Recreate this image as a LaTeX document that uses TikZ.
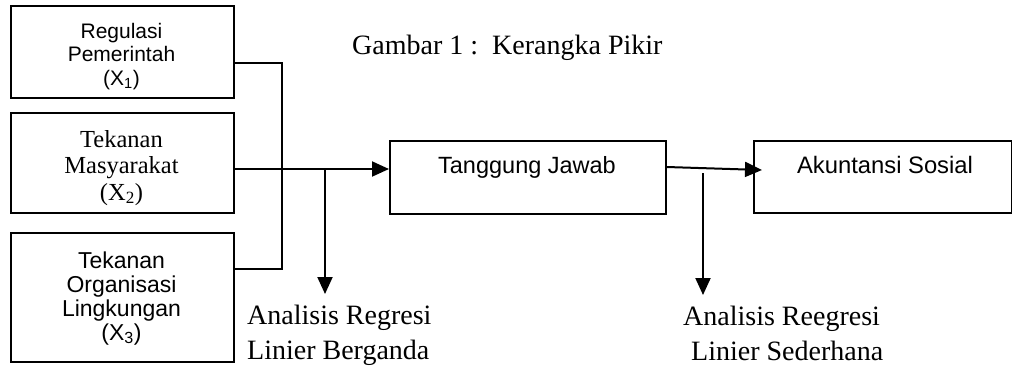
\documentclass[tikz,border=0pt]{standalone}
\usepackage{fontspec}
\setmainfont{Liberation Serif}
\newfontfamily\arialf{Liberation Sans}
\usetikzlibrary{arrows.meta}
\begin{document}
\begin{tikzpicture}[x=1pt,y=-1pt,
  box/.style={draw,line width=2pt,rectangle,inner sep=0pt,anchor=north west},
  lbl/.style={inner sep=0pt,anchor=base},
  conn/.style={line width=2pt},
  arr/.style={line width=2pt,-{Triangle[length=17pt,width=15pt]}}]
\useasboundingbox (0,0) rectangle (1012,365);
% boxes
\node[box,minimum width=223pt,minimum height=92pt] (b1) at (10,5) {};
\node[box,minimum width=223pt,minimum height=100pt] (b2) at (10,112) {};
\node[box,minimum width=223pt,minimum height=129pt] (b3) at (10,232) {};
\node[box,minimum width=276pt,minimum height=73pt] (tj) at (389,140) {};
\node[box,minimum width=258pt,minimum height=72pt] (as) at (753,140) {};
% box texts (base anchor = baseline of last line)
\node[lbl,align=center,font=\arialf\fontsize{21}{23.5}\selectfont] (t1) at (121.5,85) {Regulasi\\Pemerintah\\(X\textsubscript{1})};
\node[lbl,align=center,font=\fontsize{24.5}{26.5}\selectfont] (t2) at (121.5,200) {Tekanan\\Masyarakat\\(X\textsubscript{2})};
\node[lbl,align=center,font=\arialf\fontsize{23}{24}\selectfont] (t3) at (121.5,340) {Tekanan\\Organisasi\\Lingkungan\\(X\textsubscript{3})};
\node[lbl,font=\arialf\fontsize{23.5}{28}\selectfont] (t4) at (527,173) {Tanggung Jawab};
\node[lbl,font=\arialf\fontsize{23.8}{28}\selectfont] (t5) at (885,173) {Akuntansi Sosial};
% title
\node[inner sep=0pt,anchor=base west,font=\fontsize{28}{34}\selectfont] (title) at (352,54) {Gambar 1 :~~Kerangka Pikir};
% bottom labels
\node[inner sep=0pt,anchor=base west,align=left,font=\fontsize{28}{35}\selectfont] (l1) at (247,359) {Analisis Regresi\\Linier Berganda};
\node[inner sep=0pt,anchor=base west,align=left,font=\fontsize{28}{35}\selectfont] (l2) at (683,360) {Analisis Reegresi\\\hspace*{8pt}Linier Sederhana};
% coordinates
\coordinate (j1) at (282,63);
\coordinate (j3) at (282,269);
\coordinate (m) at (325,169);
\coordinate (a1) at (325,294);
\coordinate (p) at (762,170);
\coordinate (r0) at (703,173);
\coordinate (r1) at (703,295);
% connectors
\draw[conn] (b1.east |- j1) -- (j1) -- (j3) -- (b3.east |- j3);
\draw[arr] (b2.east |- m) -- (tj.west |- m);
\draw[arr] (m) -- (a1);
\draw[arr] (tj.east |- 0,167) -- (p);
\draw[arr] (r0) -- (r1);
\end{tikzpicture}
\end{document}
